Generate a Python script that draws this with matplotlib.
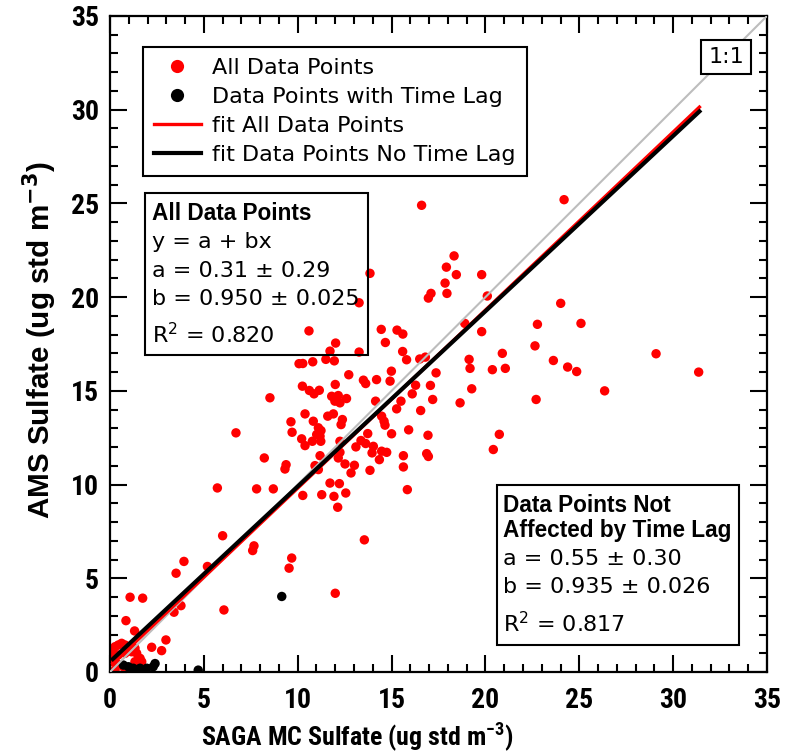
import matplotlib
matplotlib.use("Agg")
import matplotlib.pyplot as plt
from matplotlib import font_manager
from matplotlib.lines import Line2D
from matplotlib.patches import Rectangle
import numpy as np

# ---------------- data ----------------
red_x = [16.6, 18.33, 17.92, 18.45, 19.8, 17.85, 17.95, 17.1, 16.96, 20.1, 13.85, 13.27, 10.6,
         18.9, 19.8, 22.77, 22.64, 14.45, 15.29, 15.6, 14.67, 15.59, 15.8, 12.02, 11.72, 11.5,
         11.95, 13.27, 10.07, 10.27, 10.8, 19.13, 19.18, 20.9, 20.37, 21.06, 16.5, 16.8,
         17.37, 12.72, 14.99, 13.5, 13.62, 14.2, 14.92, 10.25, 10.62, 10.87, 11.15, 12.0, 11.81,
         12.16, 12.6, 8.52, 16.28, 16.1, 17.07, 17.19, 19.27, 18.65, 22.7, 24.01, 25.09, 23.62,
         24.38, 24.86, 29.09, 31.36, 26.35, 20.74, 20.42, 24.19, 15.5, 16.55, 15.91, 16.94,
         15.63, 15.63, 16.87, 16.96, 15.84, 15.27, 14.15, 11.98, 12.25,
         10.39, 11.6, 11.9, 9.64, 9.7, 10.83, 12.38, 12.31, 14.47, 14.6, 14.65, 15.0, 11.1, 11.24,
         11.01, 11.19, 11.23, 10.21, 10.39, 10.78, 12.25, 13.37, 13.73, 13.1, 13.62, 14.03, 13.96,
         14.47, 14.74, 14.35, 9.38, 9.32, 11.19, 12.16, 12.25, 12.52, 13.02, 12.84, 10.92, 11.1,
         13.85, 11.72, 12.22, 10.27, 11.28, 11.93, 12.56, 12.13, 13.55,
         6.71, 8.22, 5.72, 7.81, 8.7, 6.0, 7.67, 7.6, 9.68, 9.54, 5.19, 3.94, 3.52, 12.0, 1.07,
         1.74, 3.78, 3.41, 6.07, 0.85, 1.31, 2.98, 2.22, 2.75,
         0.09, 0.27, 0.44, 0.62, 0.8, 1.07, 1.33, 0.18, 0.44, 0.8, 1.15, 1.42, 1.6, 0.09, 0.36,
         0.71, 0.27, 0.89, 1.33, 1.69]
red_y = [24.9, 22.2, 21.6, 21.2, 21.2, 20.75, 20.2, 20.2, 19.95, 20.06, 21.27, 19.7, 18.2,
         18.6, 18.16, 18.55, 17.4, 18.28, 18.24, 18.03, 17.58, 17.1, 16.66, 17.55, 17.12, 16.68,
         16.6, 17.07, 16.45, 16.46, 16.55, 16.68, 16.2, 17.0, 16.13, 16.2, 16.7, 16.8,
         15.96, 15.86, 16.05, 15.57, 15.39, 15.6, 15.52, 15.25, 15.02, 14.84, 15.03, 15.34, 14.71,
         14.75, 14.59, 14.63, 15.3, 14.84, 15.29, 14.54, 15.11, 14.36, 14.54, 19.67, 18.6, 16.62,
         16.27, 16.03, 16.98, 16.0, 15.0, 12.68, 11.87, 25.2, 14.45, 13.95, 12.92, 12.63,
         11.54, 10.94, 11.65, 11.5, 9.73, 14.04, 14.45, 14.45, 14.36,
         13.77, 13.65, 13.77, 13.35, 12.79, 13.38, 13.47, 13.2, 13.65, 13.38, 13.17, 12.71, 13.03,
         12.88, 12.67, 12.58, 12.31, 12.44, 12.08, 12.31, 12.31, 12.35, 12.72, 12.01, 12.19, 12.04,
         11.69, 11.78, 11.72, 11.33, 11.06, 10.83, 11.54, 11.42, 11.72, 11.1, 11.03, 10.62, 11.01,
         10.8, 10.76, 10.08, 10.05, 9.42, 9.46, 9.37, 9.55, 8.79, 7.05,
         12.76, 11.42, 9.82, 9.77, 9.77, 7.27, 6.73, 6.48, 6.08, 5.54, 5.63, 5.9, 5.27, 4.2, 3.99,
         3.94, 3.54, 3.19, 3.31, 2.74, 2.19, 1.71, 1.32, 1.14,
         1.18, 1.35, 1.44, 1.53, 1.44, 1.35, 1.27, 0.91, 0.91, 1.0, 1.08, 1.0, 0.73, 0.55, 0.46,
         0.28, 0.11, 0.02, 0.55, 0.55]

lag_x = [9.15, 4.7, 0.71, 0.98, 1.24, 1.6, 1.96, 2.3, 2.4]
lag_y = [4.03, 0.1, 0.37, 0.28, 0.2, 0.2, 0.2, 0.28, 0.45]

fit_all = (0.31, 0.950)      # intercept, slope
fit_nolag = (0.55, 0.935)
fit_xrange = (0.15, 31.4)

legend_labels = ["All Data Points", "Data Points with Time Lag",
                 "fit All Data Points", "fit Data Points No Time Lag"]
box1_title = "All Data Points"
box1_lines = ["y = a + bx", "a = 0.31 \u00b1 0.29", "b = 0.950 \u00b1 0.025", "R$^{2}$ = 0.820"]
box2_title = ["Data Points Not", "Affected by Time Lag"]
box2_lines = ["a = 0.55 \u00b1 0.30", "b = 0.935 \u00b1 0.026", "R$^{2}$ = 0.817"]
xlabel = "SAGA MC Sulfate (ug std m$^{\\mathbf{-3}}$)"
ylabel = "AMS Sulfate (ug std m$^{\\mathbf{-3}}$)"

# ---------------- fonts: look for a condensed bold sans ----------------
ttf = font_manager.fontManager.ttflist
cond_family, cond_stretch = None, "normal"
for pref in ["Liberation Sans Narrow", "Arial Narrow", "Roboto Condensed", "Open Sans Condensed",
             "Noto Sans Condensed", "DejaVu Sans Condensed"]:
    if any(f.name == pref for f in ttf):
        cond_family = pref
        break
if cond_family is None:
    for fam in ["Roboto", "Noto Sans", "Open Sans", "DejaVu Sans"]:
        hits = [f for f in ttf if f.name == fam and isinstance(f.stretch, str)
                and "condensed" in f.stretch and f.weight in ("bold", 700)]
        if hits:
            cond_family, cond_stretch = fam, hits[0].stretch
            break
if cond_family is None:
    cond_family = "Liberation Sans"

plt.rcParams["mathtext.fontset"] = "custom"
plt.rcParams["mathtext.rm"] = "DejaVu Sans"
plt.rcParams["mathtext.bf"] = cond_family + ":bold"

fig = plt.figure(figsize=(7.89, 7.56), dpi=100)
ax = fig.add_axes([110/789, 1-672/756, 657/789, 656/756])


def fit_size(text, target, fam, stretch, lo, hi, mathfam="custom"):
    probe = fig.text(0.5, 0.5, text, fontsize=18.0, fontweight="bold", family=fam,
                     fontstretch=stretch, math_fontfamily=mathfam)
    fig.canvas.draw()
    w = probe.get_window_extent().width
    probe.remove()
    return float(np.clip(18.0 * target / w, lo, hi))


xlab_size = fit_size(xlabel, 312.0, cond_family, cond_stretch, 15.5, 21.0)
ylab_size = fit_size(ylabel, 358.0, "Liberation Sans", "normal", 16.0, 22.0, "dejavusans")
tick_size = 20

ax.scatter(red_x, red_y, s=46, color="#ff0000", edgecolors="none", zorder=2)
ax.scatter(lag_x, lag_y, s=46, color="black", edgecolors="none", zorder=3)

ax.plot([0, 35], [0, 35], color="#bdbdbd", lw=1.5, zorder=4)
xf = np.array(fit_xrange)
ax.plot(xf, fit_all[0] + fit_all[1]*xf, color="#ff0000", lw=2.4, zorder=5)
ax.plot(xf, fit_nolag[0] + fit_nolag[1]*xf, color="black", lw=3.0, zorder=6)

ax.set_xlim(0, 35)
ax.set_ylim(0, 35)
ax.set_xticks(np.arange(0, 36, 5))
ax.set_yticks(np.arange(0, 36, 5))
ax.set_xticks(np.arange(0, 36, 1), minor=True)
ax.set_yticks(np.arange(0, 36, 1), minor=True)
for s in ax.spines.values():
    s.set_linewidth(1.6)
ax.tick_params(which="both", direction="in", top=True, right=True, width=1.5)
ax.tick_params(which="major", length=12)
ax.tick_params(which="minor", length=5.5)
ax.tick_params(axis="x", which="major", pad=11)
ax.tick_params(axis="y", which="major", pad=8)
for lab in ax.get_xticklabels() + ax.get_yticklabels():
    lab.set_fontfamily(cond_family)
    lab.set_fontstretch(cond_stretch)
    lab.set_fontweight("bold")
    lab.set_fontsize(tick_size)

fig.text(357/789, 1-737/756, xlabel, ha="center", va="center", fontsize=xlab_size,
         fontweight="bold", family=cond_family, fontstretch=cond_stretch)
fig.text(40/789, 1-340/756, ylabel, rotation=90, ha="center", va="center",
         fontsize=ylab_size, fontweight="bold", family="Liberation Sans",
         math_fontfamily="dejavusans")

# legend
handles = [Line2D([], [], ls="none", marker="o", ms=9.5, color="#ff0000", mec="none"),
           Line2D([], [], ls="none", marker="o", ms=9.5, color="black", mec="none"),
           Line2D([], [], color="#ff0000", lw=2.4),
           Line2D([], [], color="black", lw=3.0)]
leg = ax.legend(handles, legend_labels, loc="upper left", bbox_to_anchor=(33/657, 625/656),
                borderaxespad=0, frameon=True, fancybox=False, edgecolor="black",
                framealpha=1, prop={"family": "DejaVu Sans", "size": 16},
                handlelength=2.1, handletextpad=0.5, labelspacing=0.4, borderpad=0.5)
leg.get_frame().set_linewidth(1.5)
leg.set_zorder(10)

# text box 1
ax.add_patch(Rectangle((0.053, 0.483), 0.340, 0.247, transform=ax.transAxes, fill=False,
                       ec="black", lw=1.5, zorder=8))
ax.text(0.064, 0.689, box1_title, transform=ax.transAxes, fontsize=16.3, fontweight="bold",
        family="Liberation Sans", va="baseline", zorder=9)
for yy, t in zip([0.646, 0.602, 0.559, 0.5015], box1_lines):
    ax.text(0.064, yy, t, transform=ax.transAxes, fontsize=16, family="DejaVu Sans",
            va="baseline", zorder=9)

# text box 2
ax.add_patch(Rectangle((0.589, 0.041), 0.368, 0.244, transform=ax.transAxes, fill=False,
                       ec="black", lw=1.5, zorder=8))
for yy, t in zip([0.2444, 0.2062], box2_title):
    ax.text(0.598, yy, t, transform=ax.transAxes, fontsize=16.3, fontweight="bold",
            family="Liberation Sans", va="baseline", zorder=9)
for yy, t in zip([0.1631, 0.1209, 0.0614], box2_lines):
    ax.text(0.598, yy, t, transform=ax.transAxes, fontsize=16, family="DejaVu Sans",
            va="baseline", zorder=9)

# 1:1 box
ax.text(0.9376, 0.9375, "1:1", transform=ax.transAxes, fontsize=16, family="DejaVu Sans",
        ha="center", va="center", zorder=9,
        bbox=dict(boxstyle="square,pad=0.3", fc="white", ec="black", lw=1.5))

fig.savefig("out.png", dpi=100)
